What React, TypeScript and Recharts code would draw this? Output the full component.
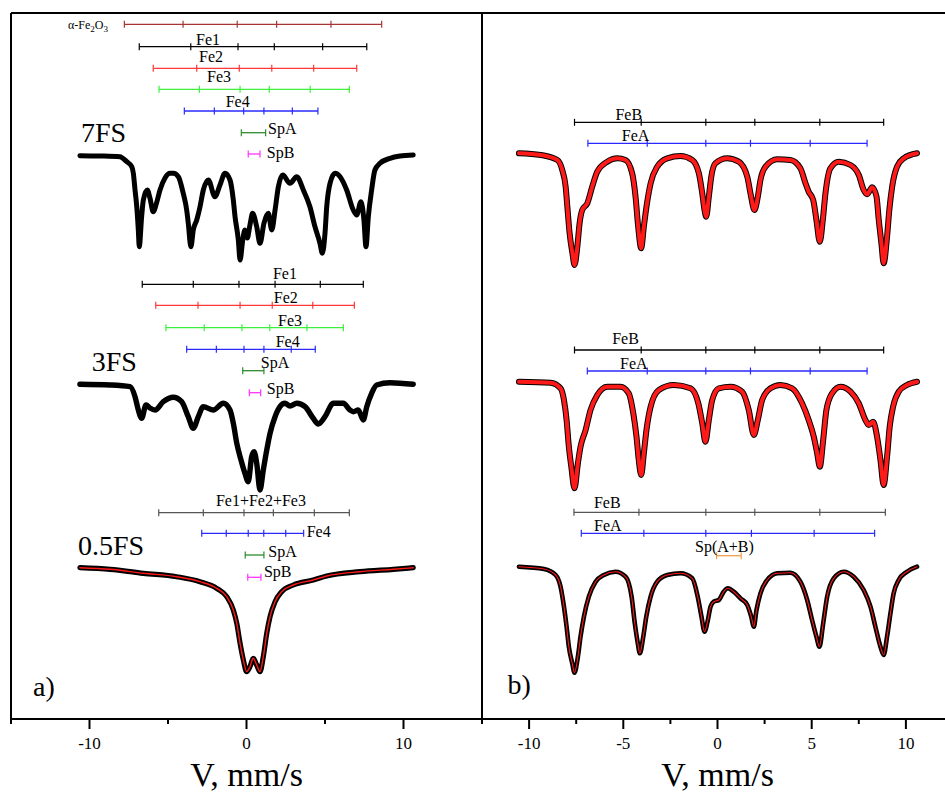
import React from 'react';
import { ComposedChart, Line, XAxis, YAxis, ReferenceLine, ReferenceDot } from 'recharts';

type P = [number, number];

// ---------- spectra (velocity mm/s, relative counts in arbitrary units incl. vertical offset) ----------
const spec7FS: P[] = [
  [-10.61, 563.3], [-9.33, 563], [-8.06, 562.3], [-7.63, 557.3], [-7.31, 552.3], [-7.21, 546], [-7.1, 529],
  [-6.99, 512.3], [-6.89, 489], [-6.83, 472.3], [-6.68, 502.3], [-6.57, 519], [-6.32, 529], [-6.15, 521],
  [-5.94, 507.3], [-5.73, 516], [-5.51, 529], [-5.19, 541], [-4.87, 545.7], [-4.66, 545.7], [-4.34, 542.3],
  [-4.03, 525.7], [-3.81, 509], [-3.71, 496], [-3.54, 472.3], [-3.39, 489], [-3.17, 499], [-2.96, 512.3],
  [-2.75, 529], [-2.43, 539], [-2.01, 522.3], [-1.69, 534], [-1.37, 545.7], [-1.05, 539], [-0.84, 519],
  [-0.73, 502.3], [-0.52, 479], [-0.41, 459], [-0.24, 479], [-0.1, 489], [0.05, 481], [0.22, 494],
  [0.39, 505.7], [0.65, 492.3], [0.86, 475.7], [1.11, 495.7], [1.39, 505.7], [1.61, 489], [1.82, 509],
  [2.03, 532.3], [2.31, 544], [2.77, 535.7], [3.2, 542.3], [3.62, 529], [4.04, 512.3], [4.36, 492.3],
  [4.68, 475.7], [4.83, 465.7], [5.0, 485.7], [5.11, 512.3], [5.32, 535.7], [5.64, 545.7], [5.96, 542.3],
  [6.38, 529], [6.8, 509], [7.02, 504], [7.29, 517.3], [7.48, 499], [7.61, 472.3], [7.76, 502.3],
  [7.97, 529], [8.18, 549], [8.5, 555.7], [9.14, 560.7], [9.78, 563], [10.62, 564],
];

const spec3FS: P[] = [
  [-10.61, 334.7], [-8.69, 334], [-7.42, 332.3], [-7.1, 322.3], [-6.89, 309], [-6.68, 300.7], [-6.4, 314],
  [-6.15, 311], [-5.83, 309], [-5.3, 317.3], [-4.66, 321.7], [-4.13, 317.3], [-3.71, 302.3], [-3.39, 290.7],
  [-3.07, 302.3], [-2.75, 312.3], [-2.11, 309], [-1.48, 315.7], [-1.05, 309], [-0.84, 295.7], [-0.62, 275.7],
  [-0.35, 259], [-0.1, 245.7], [0.11, 237.3], [0.33, 262.3], [0.48, 267.3], [0.65, 255.7], [0.86, 229],
  [1.07, 249], [1.29, 269], [1.5, 285.7], [1.82, 302.3], [2.13, 312.3], [2.45, 315.7], [2.77, 313],
  [3.2, 315.7], [3.73, 312.3], [4.25, 300.7], [4.57, 295], [5.0, 302.3], [5.53, 315.7], [6.17, 315.7],
  [6.59, 309], [6.8, 307.3], [7.12, 309], [7.44, 299], [7.66, 312.3], [7.97, 325.7], [8.29, 334],
  [9.14, 336.3], [10.62, 334.7],
];

const spec05FS: P[] = [
  [-10.61, 151.3], [-8.69, 149.7], [-6.57, 145.7], [-4.45, 142.3], [-2.96, 137.3], [-1.9, 130.7],
  [-1.26, 122.3], [-0.84, 109], [-0.62, 95.7], [-0.41, 75.7], [-0.2, 59], [0.01, 47.3], [0.22, 52.3],
  [0.43, 60.7], [0.65, 54], [0.86, 47.3], [1.07, 62.3], [1.29, 85.7], [1.5, 102.3], [1.82, 117.3],
  [2.24, 127.3], [2.98, 134], [4.25, 139], [5.11, 143], [7.23, 147.3], [9.35, 149.7], [10.62, 151.3],
];

const specBTop: P[] = [
  [-10.54, 565.7], [-9.39, 564], [-8.5, 559], [-8.24, 549], [-8.06, 532.3], [-7.97, 512.3], [-7.85, 485.7],
  [-7.7, 465.7], [-7.59, 454], [-7.44, 472.3], [-7.32, 495.7], [-7.18, 509], [-6.91, 515.7], [-6.65, 532.3],
  [-6.38, 547.3], [-5.85, 557.3], [-5.32, 560.7], [-4.88, 559], [-4.53, 545.7], [-4.35, 522.3], [-4.21, 492.3],
  [-4.05, 470.7], [-3.91, 492.3], [-3.77, 512.3], [-3.55, 535.7], [-3.2, 552.3], [-2.67, 560.7], [-1.96, 563],
  [-1.34, 559], [-0.99, 545.7], [-0.81, 525.7], [-0.69, 509], [-0.6, 502.3], [-0.46, 522.3], [-0.33, 542.3],
  [-0.11, 555.7], [0.51, 560.7], [1.13, 557.3], [1.58, 542.3], [1.75, 525.7], [1.96, 509], [2.14, 522.3],
  [2.28, 539], [2.55, 552.3], [3.17, 559.7], [3.87, 559], [4.4, 550.7], [4.67, 535.7], [4.84, 527.3],
  [5.08, 519], [5.25, 499], [5.43, 477.3], [5.59, 499], [5.73, 525.7], [5.99, 550.7], [6.44, 557.3],
  [7.06, 554], [7.5, 544], [7.76, 529], [7.94, 524.7], [8.21, 531.7], [8.44, 522.3], [8.56, 499],
  [8.7, 475.7], [8.82, 455.7], [9.0, 482.3], [9.12, 509], [9.27, 532.3], [9.53, 552.3], [9.88, 560.7],
  [10.59, 565.7],
];

const specBMid: P[] = [
  [-10.54, 337.3], [-8.86, 336.3], [-8.33, 330.7], [-8.15, 319], [-8.01, 299], [-7.89, 272.3], [-7.76, 252.3],
  [-7.59, 230.7], [-7.41, 255.7], [-7.27, 272.3], [-7.0, 289], [-6.74, 309], [-6.38, 324], [-5.85, 332.3],
  [-5.15, 332.3], [-4.71, 325.7], [-4.47, 305.7], [-4.3, 282.3], [-4.18, 259], [-4.05, 244], [-3.91, 265.7],
  [-3.77, 289], [-3.55, 312.3], [-3.11, 329], [-2.32, 334], [-1.43, 330.7], [-1.02, 315.7], [-0.81, 295.7],
  [-0.64, 277.3], [-0.46, 299], [-0.28, 319], [0.07, 330.7], [0.69, 332.3], [1.31, 327.3], [1.66, 309],
  [1.93, 284], [2.14, 299], [2.37, 319], [2.81, 330.7], [3.34, 334], [3.96, 330.7], [4.49, 315.7],
  [4.84, 299], [5.11, 282.3], [5.29, 265.7], [5.43, 252.3], [5.61, 279], [5.78, 309], [6.08, 325.7],
  [6.53, 332.3], [7.06, 327.3], [7.5, 315.7], [7.85, 299], [8.03, 294], [8.26, 297.3], [8.47, 282.3],
  [8.65, 259], [8.82, 234], [9.0, 262.3], [9.14, 292.3], [9.32, 312.3], [9.62, 327.3], [10.06, 334],
  [10.59, 337.3],
];

const specBBot: P[] = [
  [-10.54, 152.3], [-9.21, 150], [-8.59, 144], [-8.33, 132.3], [-8.15, 112.3], [-8.01, 92.3], [-7.89, 72.3],
  [-7.71, 55.7], [-7.59, 46.3], [-7.41, 62.3], [-7.27, 82.3], [-7.09, 102.3], [-6.83, 122.3], [-6.47, 137.3],
  [-6.03, 144], [-5.41, 147.3], [-4.88, 142.3], [-4.56, 122.3], [-4.39, 95.7], [-4.23, 75.7], [-4.12, 65.7],
  [-3.94, 82.3], [-3.78, 102.3], [-3.55, 122.3], [-3.2, 137.3], [-2.67, 144], [-1.96, 145.7], [-1.34, 140.7],
  [-1.05, 122.3], [-0.85, 102.3], [-0.69, 87.3], [-0.51, 99], [-0.37, 112.3], [-0.2, 117.3], [0.07, 119],
  [0.33, 127.3], [0.55, 130.7], [0.86, 127.3], [1.22, 120.7], [1.58, 114], [1.79, 102.3], [1.93, 92.3],
  [2.07, 109], [2.28, 125.7], [2.64, 139], [3.17, 145.7], [3.87, 146.3], [4.4, 137.3], [4.76, 119],
  [5.02, 99], [5.25, 82.3], [5.41, 72.3], [5.61, 95.7], [5.82, 122.3], [6.17, 140.7], [6.7, 147.3],
  [7.23, 142.3], [7.76, 129], [8.12, 112.3], [8.38, 92.3], [8.65, 72.3], [8.82, 64], [9.0, 82.3],
  [9.18, 105.7], [9.35, 125.7], [9.62, 139], [10.06, 147.3], [10.59, 152.3],
];

// ---------- sextet / doublet line positions (mm/s) ----------
const a7Hem = [-7.78, -4.04, -0.59, 1.92, 5.38, 8.61];
const a7Fe1 = [-6.83, -3.55, -0.54, 1.77, 4.85, 7.66];
const a7Fe2 = [-5.94, -3.17, -0.46, 1.61, 4.28, 7.02];
const a7Fe3 = [-5.57, -3.0, -0.41, 1.45, 4.06, 6.55];
const a7Fe4 = [-3.96, -2.05, -0.18, 1.11, 2.92, 4.55];
const a7SpA = [-0.33, 1.22];
const a7SpB = [0.11, 0.86];
const a3Fe1 = [-6.64, -3.39, -0.48, 1.82, 4.7, 7.44];
const a3Fe2 = [-5.78, -3.09, -0.41, 1.64, 4.22, 6.87];
const a3Fe3 = [-5.13, -2.69, -0.29, 1.48, 3.85, 6.17];
const a3Fe4 = [-3.81, -1.92, -0.16, 1.11, 2.85, 4.38];
const a3SpA = [-0.24, 1.11];
const a3SpB = [0.18, 0.9];
const a05Fe123 = [-5.59, -2.75, -0.16, 1.71, 4.32, 6.55];
const a05Fe4 = [-2.85, -1.29, 0.11, 1.1, 2.5, 3.64];
const a05SpA = [-0.08, 1.11];
const a05SpB = [0.08, 0.92];
const bTopFeB = [-7.59, -4.05, -0.62, 1.98, 5.43, 8.82];
const bTopFeA = [-6.88, -3.73, -0.62, 1.75, 4.92, 7.94];
const bMidFeB = [-7.59, -4.05, -0.62, 1.98, 5.43, 8.82];
const bMidFeA = [-6.91, -3.73, -0.62, 1.75, 4.92, 7.94];
const bBotFeB = [-7.62, -4.17, -0.62, 1.98, 5.43, 8.91];
const bBotFeA = [-7.23, -3.91, -0.62, 1.8, 5.13, 8.34];
const bBotSp = [-0.05, 1.26];

// ---------- axis ticks ----------
const leftTicks = [-15, -10, -5, 0, 5, 10, 15];
const leftLabeled = [-10, 0, 10];
const rightTicks = [-12.5, -10, -7.5, -5, -2.5, 0, 2.5, 5, 7.5, 10, 12.5];
const rightLabeled = [-10, -5, 0, 5, 10];

const FONT = '"Liberation Serif", "Times New Roman", serif';

const rows = (pts: P[]) => pts.map(([v, y]) => ({ v, y }));

const makeTick = (labeled: number[]) => (props: any) => {
  const { x, y, payload } = props;
  const val = payload.value;
  const major = labeled.includes(val);
  return (
    <g>
      <line x1={x} x2={x} y1={y} y2={y + (major ? 10 : 5)} stroke="#000" strokeWidth={2} />
      {major && (
        <text x={x} y={y + 30} textAnchor="middle" fontSize={17} fill="#000" fontFamily={FONT}>
          {String(val)}
        </text>
      )}
    </g>
  );
};

function sticks(key: string, pos: number[], level: number, color: string) {
  const data = pos.map((v) => ({ v, y: level }));
  return (
    <Line
      key={key}
      data={data}
      dataKey="y"
      stroke={color}
      strokeWidth={1.3}
      isAnimationActive={false}
      activeDot={false}
      legendType="none"
      dot={(p: any) => (
        <line key={`${key}-d${p.index}`} x1={p.cx} x2={p.cx} y1={p.cy - 3.5} y2={p.cy + 3.5} stroke={color} strokeWidth={1.2} />
      )}
    />
  );
}

function spectrum(key: string, pts: P[], color: string, width: number) {
  return (
    <Line
      key={key}
      type="monotone"
      data={rows(pts)}
      dataKey="y"
      stroke={color}
      strokeWidth={width}
      strokeLinejoin="round"
      strokeLinecap="round"
      isAnimationActive={false}
      activeDot={false}
      legendType="none"
      dot={false}
    />
  );
}

function txt(key: string, v: number, y: number, content: React.ReactNode, size: number, anchor: 'start' | 'middle' | 'end' = 'middle', color = '#000') {
  return (
    <ReferenceDot
      key={key}
      x={v}
      y={y}
      r={0}
      ifOverflow="visible"
      shape={(p: any) => (
        <text x={p.cx} y={p.cy} dy="0.35em" textAnchor={anchor} fontSize={size} fill={color} fontFamily={FONT}>
          {content}
        </text>
      )}
    />
  );
}

const BLACK = '#000';
const RED = '#ff1a1a';
const HEM = '#a83434';
const FE2C = '#ff3838';
const FE3C = '#3cf03c';
const BLUE = '#2a2aff';
const SPA = '#2e8b2e';
const SPB = '#ff33ff';
const GRAY = '#555';
const ORANGE = '#f0a050';

const axisLabel = { value: 'V, mm/s', position: 'insideBottom' as const, offset: 9, fontSize: 34, fill: '#000', fontFamily: FONT };

function LeftPanel() {
  return (
    <ComposedChart width={484} height={795} margin={{ top: 13, right: 2, left: 11, bottom: 0 }}>
      <XAxis
        type="number"
        dataKey="v"
        domain={[-15, 15]}
        allowDataOverflow
        ticks={leftTicks}
        interval={0}
        tickSize={0}
        tickMargin={0}
        tickLine={false}
        tick={makeTick(leftLabeled)}
        axisLine={{ stroke: '#000', strokeWidth: 2 }}
        height={76}
        label={axisLabel}
      />
      <YAxis type="number" dataKey="y" domain={[0, 706]} allowDataOverflow hide />
      <ReferenceLine y={706} stroke="#000" strokeWidth={2} />
      <ReferenceLine x={-15} stroke="#000" strokeWidth={2} />
      <ReferenceLine x={15} stroke="#000" strokeWidth={2} />

      {sticks('hem', a7Hem, 694.7, HEM)}
      {sticks('f71', a7Fe1, 672.3, BLACK)}
      {sticks('f72', a7Fe2, 650.7, FE2C)}
      {sticks('f73', a7Fe3, 629.7, FE3C)}
      {sticks('f74', a7Fe4, 608, BLUE)}
      {sticks('f7a', a7SpA, 586.3, SPA)}
      {sticks('f7b', a7SpB, 565, SPB)}

      {sticks('f31', a3Fe1, 434.7, BLACK)}
      {sticks('f32', a3Fe2, 413.7, FE2C)}
      {sticks('f33', a3Fe3, 391.3, FE3C)}
      {sticks('f34', a3Fe4, 369.7, BLUE)}
      {sticks('f3a', a3SpA, 348.3, SPA)}
      {sticks('f3b', a3SpB, 326.3, SPB)}

      {sticks('f0123', a05Fe123, 206.3, GRAY)}
      {sticks('f04', a05Fe4, 185.7, BLUE)}
      {sticks('f0a', a05SpA, 164, SPA)}
      {sticks('f0b', a05SpB, 141.7, SPB)}

      {spectrum('s7', spec7FS, BLACK, 5)}
      {spectrum('s3', spec3FS, BLACK, 5.4)}
      {spectrum('s0', spec05FS, BLACK, 5.2)}
      {spectrum('s0fit', spec05FS, RED, 1.4)}

      {txt('lhem', -8.82, 694, (
        <>
          α-Fe<tspan fontSize="75%" dy="3">2</tspan>
          <tspan dy="-3">O</tspan>
          <tspan fontSize="75%" dy="3">3</tspan>
        </>
      ), 12, 'end')}
      {txt('l71', -2.45, 680, 'Fe1', 16)}
      {txt('l72', -2.26, 663, 'Fe2', 16)}
      {txt('l73', -1.75, 642.3, 'Fe3', 16)}
      {txt('l74', -0.56, 617.3, 'Fe4', 16)}
      {txt('l7a', 1.37, 590.7, 'SpA', 16, 'start')}
      {txt('l7b', 1.29, 566.7, 'SpB', 16, 'start')}
      {txt('l7', -10.54, 587.3, '7FS', 28, 'start')}

      {txt('l31', 2.45, 445.7, 'Fe1', 16)}
      {txt('l32', 2.5, 421.7, 'Fe2', 16)}
      {txt('l33', 2.77, 399, 'Fe3', 16)}
      {txt('l34', 2.62, 378, 'Fe4', 16)}
      {txt('l3a', 1.82, 356.3, 'SpA', 16)}
      {txt('l3b', 1.29, 330.7, 'SpB', 16, 'start')}
      {txt('l3', -9.86, 358.3, '3FS', 28, 'start')}

      {txt('l0123', 0.92, 219, 'Fe1+Fe2+Fe3', 16)}
      {txt('l04', 3.83, 187.3, 'Fe4', 16, 'start')}
      {txt('l0a', 1.39, 167.3, 'SpA', 16, 'start')}
      {txt('l0b', 1.11, 147.3, 'SpB', 16, 'start')}
      {txt('l0', -10.73, 174, '0.5FS', 28, 'start')}

      {txt('la', -13.6, 33, 'a)', 28, 'start')}
    </ComposedChart>
  );
}

function RightPanel() {
  return (
    <ComposedChart width={471} height={795} margin={{ top: 13, right: 0, left: 0, bottom: 0 }}>
      <XAxis
        type="number"
        dataKey="v"
        domain={[-12.5, 12.5]}
        allowDataOverflow
        ticks={rightTicks}
        interval={0}
        tickSize={0}
        tickMargin={0}
        tickLine={false}
        tick={makeTick(rightLabeled)}
        axisLine={{ stroke: '#000', strokeWidth: 2 }}
        height={76}
        label={axisLabel}
      />
      <YAxis type="number" dataKey="y" domain={[0, 706]} allowDataOverflow hide />
      <ReferenceLine y={706} stroke="#000" strokeWidth={2} />

      {sticks('tb', bTopFeB, 596.7, BLACK)}
      {sticks('ta', bTopFeA, 575.7, BLUE)}
      {sticks('mb', bMidFeB, 369, BLACK)}
      {sticks('ma', bMidFeA, 348, BLUE)}
      {sticks('bb', bBotFeB, 206.7, GRAY)}
      {sticks('ba', bBotFeA, 185.7, BLUE)}
      {sticks('bs', bBotSp, 163.3, ORANGE)}

      {spectrum('st', specBTop, BLACK, 6)}
      {spectrum('stfit', specBTop, RED, 4)}
      {spectrum('sm', specBMid, BLACK, 6)}
      {spectrum('smfit', specBMid, RED, 4)}
      {spectrum('sb', specBBot, BLACK, 4.6)}
      {spectrum('sbfit', specBBot, RED, 1.1)}

      {txt('ltb', -4.71, 605, 'FeB', 16)}
      {txt('lta', -4.35, 584, 'FeA', 16)}
      {txt('lmb', -4.88, 380.7, 'FeB', 16)}
      {txt('lma', -4.44, 355.7, 'FeA', 16)}
      {txt('lbb', -5.85, 216.7, 'FeB', 16)}
      {txt('lba', -5.82, 194, 'FeA', 16)}
      {txt('lbs', 0.37, 172.3, 'Sp(A+B)', 16)}
      {txt('lb', -11.14, 35, 'b)', 28, 'start')}
    </ComposedChart>
  );
}

export default function App() {
  return (
    <div
      style={{
        position: 'absolute',
        left: 0,
        top: 0,
        width: 945,
        height: 795,
        overflow: 'hidden',
        background: '#fff',
        fontFamily: FONT,
      }}
    >
      <div style={{ position: 'absolute', left: 0, top: 0 }}>
        <LeftPanel />
      </div>
      <div style={{ position: 'absolute', left: 482, top: 0 }}>
        <RightPanel />
      </div>
    </div>
  );
}
